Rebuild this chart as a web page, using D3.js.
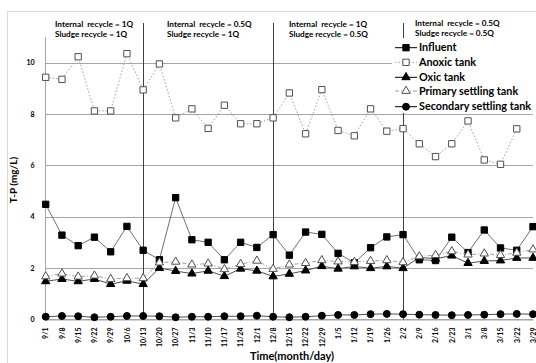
<!DOCTYPE html>
<html><head><meta charset="utf-8">
<script src="https://cdn.jsdelivr.net/npm/d3@7"></script>
<style>body{margin:0;background:#fff}svg{display:block;font-family:Lato,"Open Sans",sans-serif}</style>
</head><body><div id="chart"></div>
<script>
const categories = ["9/1","9/8","9/15","9/22","9/29","10/6","10/13","10/20","10/27","11/3","11/10","11/17","11/24","12/1","12/8","12/15","12/22","12/29","1/5","1/12","1/19","1/26","2/2","2/9","2/16","2/23","3/1","3/8","3/15","3/22","3/29"];
const influent = [4.48,3.28,2.87,3.2,2.63,3.62,2.69,2.32,4.74,3.1,3.0,2.32,3.0,2.8,3.3,2.5,3.4,3.31,2.57,2.2,2.79,3.21,3.3,2.32,2.29,3.2,2.6,3.48,2.78,2.69,3.61];
const anoxic = [9.43,9.35,10.23,8.12,8.12,10.35,8.94,9.95,7.85,8.2,7.44,8.34,7.62,7.62,7.85,8.82,7.23,8.95,7.36,7.15,8.2,7.33,7.43,6.84,6.34,6.84,7.73,6.21,6.04,7.42,null];
const oxic = [1.48,1.57,1.48,1.57,1.37,1.5,1.37,2.0,1.88,1.78,1.89,1.68,1.97,1.89,1.67,1.77,1.9,2.07,1.97,2.06,1.99,2.06,1.99,2.41,2.36,2.48,2.19,2.27,2.29,2.39,2.39];
const primary = [1.67,1.78,1.66,1.7,1.57,1.6,1.6,2.21,2.24,2.13,2.17,1.95,2.15,2.28,1.96,2.13,2.19,2.3,2.25,2.23,2.27,2.3,2.22,2.45,2.5,2.65,2.52,2.56,2.5,2.59,2.72];
const secondary = [0.1,0.13,0.12,0.08,0.1,0.13,0.13,0.12,0.08,0.1,0.1,0.12,0.12,0.14,0.1,0.08,0.1,0.14,0.17,0.17,0.2,0.21,0.2,0.18,0.17,0.16,0.17,0.18,0.2,0.21,0.2];
const yTicks = [0,2,4,6,8,10];
const phaseBreaks = ["10/13","12/8","2/2"];
const phaseLabels = [
  ["Internal  recycle = 1Q","Sludge recycle = 1Q"],
  ["Internal  recycle = 0.5Q","Sludge recycle = 1Q"],
  ["Internal  recycle = 1Q","Sludge recycle = 0.5Q"],
  ["Internal  recycle = 0.5Q","Sludge recycle = 0.5Q"]
];
const seriesNames = ["Influent","Anoxic tank","Oxic tank","Primary settling tank","Secondary settling tank"];

const W = 536, H = 363;
const svg = d3.select("#chart").append("svg").attr("width", W).attr("height", H);
svg.append("rect").attr("x",7.5).attr("y",11.5).attr("width",700).attr("height",500)
  .attr("fill","none").attr("stroke","#d9d9d9");

const x = d3.scalePoint().domain(categories).range([45.7, 533]);
const y = d3.scaleLinear().domain([0, 11]).range([319.3, 37]);

svg.append("g").selectAll("line").data(yTicks).join("line")
  .attr("x1",45).attr("x2",533).attr("y1",d=>Math.round(y(d))+0.5).attr("y2",d=>Math.round(y(d))+0.5)
  .attr("stroke","#a6a6a6").attr("stroke-width",1);

const yAxis = svg.append("g").attr("transform","translate(45.5,0)")
  .call(d3.axisLeft(y).tickValues(yTicks).tickSize(0).tickPadding(11));
yAxis.select(".domain").attr("stroke","#a6a6a6").attr("d","M0,37V319.5");
yAxis.selectAll("text").attr("font-size","7px").attr("font-weight","bold").attr("fill","#000").attr("font-family","Lato");

const xAxis = svg.append("g").attr("transform","translate(0,319.5)")
  .call(d3.axisBottom(x).tickSize(0));
xAxis.select(".domain").attr("stroke","#a6a6a6");
xAxis.selectAll(".tick text").attr("font-size","7px").attr("font-weight","bold").attr("fill","#000")
  .attr("font-family","Lato").attr("text-anchor","end").attr("y",0).attr("x",0)
  .attr("dx","-8px").attr("dy","0.32em").attr("transform","rotate(-90)");

svg.append("g").selectAll("line").data(phaseBreaks).join("line")
  .attr("x1",d=>Math.round(x(d))+0.5).attr("x2",d=>Math.round(x(d))+0.5)
  .attr("y1",23).attr("y2",319.5).attr("stroke","#404040").attr("stroke-width",1);

const seriesData = [influent, anoxic, oxic, primary, secondary];
const styles = [
  {stroke:"#707070", dash:null, marker:"square", fill:"#000", mstroke:"#000"},
  {stroke:"#a0a0a0", dash:"1.5,2", marker:"square", fill:"#fff", mstroke:"#505050"},
  {stroke:"#505050", dash:null, marker:"triangle", fill:"#000", mstroke:"#000"},
  {stroke:"#a0a0a0", dash:"4,2,1,2", marker:"triangle", fill:"#fff", mstroke:"#505050"},
  {stroke:"#505050", dash:null, marker:"circle", fill:"#000", mstroke:"#000"}
];
const symSize = {square:40, triangle:30, circle:38};
const symType = {square:d3.symbolSquare, triangle:d3.symbolTriangle, circle:d3.symbolCircle};

const line = d3.line().defined(d=>d.v!=null).x(d=>x(d.c)).y(d=>y(d.v));
seriesData.forEach((arr,i)=>{
  const pts = categories.map((c,j)=>({c, v: arr[j]}));
  const st = styles[i];
  const g = svg.append("g");
  g.append("path").datum(pts).attr("d",line).attr("fill","none")
    .attr("stroke",st.stroke).attr("stroke-width",1).attr("stroke-dasharray",st.dash);
  g.selectAll("path.m").data(pts.filter(d=>d.v!=null)).join("path").attr("class","m")
    .attr("d", d3.symbol().type(symType[st.marker]).size(symSize[st.marker]))
    .attr("transform",d=>`translate(${x(d.c)},${y(d.v)})`)
    .attr("fill",st.fill).attr("stroke",st.mstroke).attr("stroke-width",1);
});

const annX = [55, 167, 289, 415];
const annY = [[26.5,37],[26.5,37],[26.5,37],[25.5,36]];
phaseLabels.forEach((lbl,i)=>{
  lbl.forEach((t,k)=>{
    svg.append("text").attr("x",annX[i]).attr("y",annY[i][k]).text(t)
      .attr("font-size","8.2px").attr("font-weight","bold").attr("fill","#000")
      .style("white-space","pre");
  });
});

const leg = svg.append("g");
leg.append("rect").attr("x",392).attr("y",38).attr("width",150).attr("height",75).attr("fill","#fff");
const legY = [47.7, 62.3, 77.3, 91, 106.7];
seriesNames.forEach((n,i)=>{
  const st = styles[i];
  leg.append("line").attr("x1",395).attr("x2",417).attr("y1",legY[i]).attr("y2",legY[i])
    .attr("stroke", i===0||i===2||i===4 ? "#000" : st.stroke).attr("stroke-width",1).attr("stroke-dasharray",st.dash);
  leg.append("path").attr("d", d3.symbol().type(symType[st.marker]).size(symSize[st.marker]))
    .attr("transform",`translate(406,${legY[i]})`).attr("fill",st.fill).attr("stroke",st.mstroke);
  leg.append("text").attr("x",419).attr("y",legY[i]).attr("dy","0.35em").text(n)
    .attr("font-size","10.8px").attr("font-weight","bold").attr("fill","#000");
});

svg.append("text").attr("transform","translate(17,180) rotate(-90)").attr("text-anchor","middle")
  .attr("font-size","10px").attr("font-weight","bold").text("T-P (mg/L)");
svg.append("text").attr("x",292).attr("y",360).attr("text-anchor","middle")
  .attr("font-size","11px").attr("font-weight","bold").text("Time(month/day)");
</script></body></html>
